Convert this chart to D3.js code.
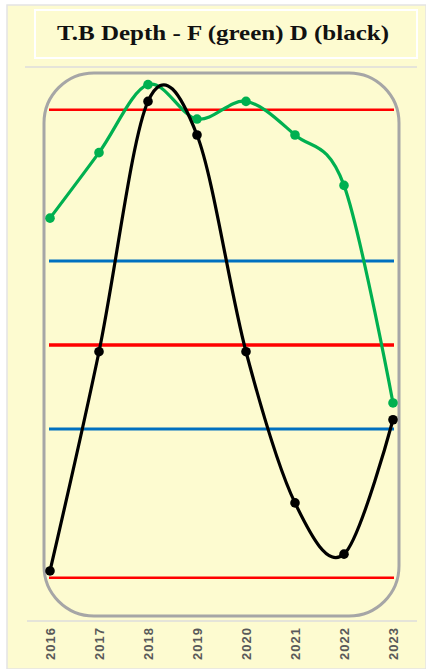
<!DOCTYPE html>
<html>
<head>
<meta charset="utf-8">
<script src="https://cdn.jsdelivr.net/npm/d3@7"></script>
<style>
  body { margin: 0; background: #ffffff; }
  svg { display: block; }
</style>
</head>
<body>
<svg id="chart"></svg>
<script>
// chart data
var years = ["2016", "2017", "2018", "2019", "2020", "2021", "2022", "2023"];
var greenF = [1.51, 2.29, 3.10, 2.69, 2.90, 2.50, 1.90, -0.69];
var blackD = [-2.69, -0.08, 2.90, 2.50, -0.08, -1.88, -2.49, -0.89];
// reference lines: value, colour, width
var refValues = [2.8, 1, 0, -1, -2.77];
var refColors = ["#ff0000", "#0070c0", "#ff0000", "#0070c0", "#ff0000"];
var refWidths = [2.5, 3, 3.5, 3, 2.5];
var title = "T.B Depth - F (green) D (black)";

var width = 426, height = 669;
var svg = d3.select("#chart").attr("width", width).attr("height", height);

// background panel
svg.append("rect")
  .attr("x", 7).attr("y", 5)
  .attr("width", width - 7).attr("height", height - 5)
  .attr("fill", "#fdfbd0")
  .attr("stroke", "#e4e4e4").attr("stroke-width", 1.5);

// title box
svg.append("rect")
  .attr("x", 35).attr("y", 10)
  .attr("width", 382).attr("height", 48)
  .attr("fill", "#fdfbd0")
  .attr("stroke", "#ffffff").attr("stroke-width", 2);

svg.append("text")
  .attr("x", 223).attr("y", 40)
  .attr("text-anchor", "middle")
  .attr("textLength", 332)
  .attr("lengthAdjust", "spacingAndGlyphs")
  .style("font-family", "'Liberation Serif', 'DejaVu Serif', serif")
  .style("font-weight", "bold")
  .style("font-size", "22px")
  .attr("fill", "#111")
  .text(title);

// divider under title
svg.append("line")
  .attr("x1", 25).attr("x2", 417)
  .attr("y1", 67).attr("y2", 67)
  .attr("stroke", "#dcdcdc").attr("stroke-width", 1.5);

// scales
var x = d3.scalePoint().domain(years).range([50, 393]);
var y = d3.scaleLinear().domain([-3, 3]).range([597, 93]);

// rounded plot frame
svg.append("rect")
  .attr("x", 44).attr("y", 73)
  .attr("width", 355).attr("height", 543)
  .attr("rx", 50).attr("ry", 50)
  .attr("fill", "none")
  .attr("stroke", "#a6a6a6").attr("stroke-width", 3);

// reference lines
svg.append("g")
  .selectAll("line")
  .data(refValues)
  .enter()
  .append("line")
  .attr("x1", x(years[0]) - 1)
  .attr("x2", x(years[years.length - 1]) + 1)
  .attr("y1", function (d) { return y(d); })
  .attr("y2", function (d) { return y(d); })
  .attr("stroke", function (d, i) { return refColors[i]; })
  .attr("stroke-width", function (d, i) { return refWidths[i]; });

// series
var line = d3.line()
  .x(function (d, i) { return x(years[i]); })
  .y(function (d) { return y(d); })
  .curve(d3.curveCardinal.tension(0));

function drawSeries(values, color) {
  var g = svg.append("g");
  g.append("path")
    .datum(values)
    .attr("d", line)
    .attr("fill", "none")
    .attr("stroke", color)
    .attr("stroke-width", 3.2);
  g.selectAll("circle")
    .data(values)
    .enter()
    .append("circle")
    .attr("cx", function (d, i) { return x(years[i]); })
    .attr("cy", function (d) { return y(d); })
    .attr("r", 4.8)
    .attr("fill", color);
}

drawSeries(greenF, "#00b050");
drawSeries(blackD, "#000000");

// bottom axis line
svg.append("line")
  .attr("x1", 27).attr("x2", 417)
  .attr("y1", 621).attr("y2", 621)
  .attr("stroke", "#dcdcdc").attr("stroke-width", 1.5);

// year labels
var xAxis = d3.axisBottom(x).tickSize(0).tickPadding(0);
var axisG = svg.append("g")
  .attr("transform", "translate(0,627)")
  .call(xAxis);
axisG.select(".domain").remove();
axisG.selectAll("text")
  .attr("transform", "rotate(-90)")
  .attr("x", 0).attr("y", 0).attr("dy", "0.35em")
  .attr("text-anchor", "end")
  .style("font-family", "'Liberation Sans', Arial, sans-serif")
  .style("font-weight", "bold")
  .style("font-size", "13px")
  .style("letter-spacing", "1px")
  .attr("fill", "#595959");
</script>
</body>
</html>
